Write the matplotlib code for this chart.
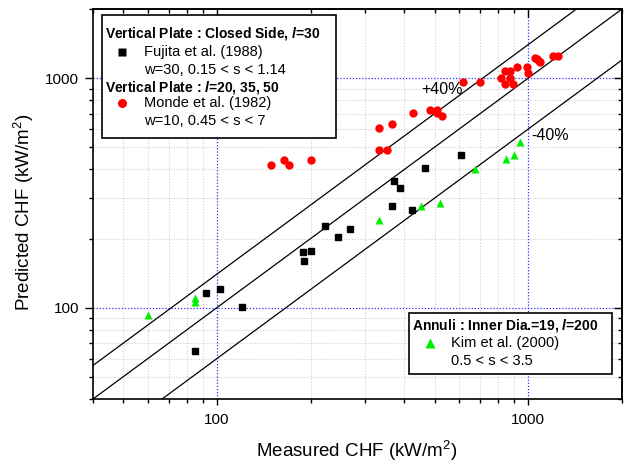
import numpy as np
import matplotlib
matplotlib.use("Agg")
import matplotlib.pyplot as plt
from matplotlib.patches import Rectangle
from matplotlib.ticker import LogLocator, NullFormatter, FixedLocator, FixedFormatter

plt.rcParams['font.family'] = ['Liberation Sans', 'DejaVu Sans']
plt.rcParams['mathtext.fontset'] = 'custom'
plt.rcParams['mathtext.rm'] = 'Liberation Sans'
plt.rcParams['mathtext.it'] = 'Liberation Sans:italic:bold'
plt.rcParams['mathtext.bf'] = 'Liberation Sans:bold'

# Fujita et al. (1988) - measured vs predicted CHF (kW/m2)
fujita_meas = [606, 465, 371, 388, 364, 422, 223, 267, 244, 189, 200, 190, 102, 92, 120, 85]
fujita_pred = [463, 405, 357, 331, 277, 265, 227, 220, 203, 174, 177, 160, 120, 116, 101, 65]

# Monde et al. (1982)
monde_meas = [149, 164, 171, 201, 331, 366, 332, 351, 425, 484, 508, 510, 527, 618, 700,
              816, 845, 874, 874, 845, 890, 917, 994, 1001, 1052, 1069, 1081, 1091, 1198, 1248]
monde_pred = [417, 439, 417, 439, 606, 631, 486, 486, 705, 729, 729, 705, 684, 961, 961,
              1005, 1069, 1069, 1005, 939, 939, 1113, 1113, 1053, 1224, 1214, 1188, 1176, 1243, 1243]

# Kim et al. (2000)
kim_meas = [60, 85, 85, 331, 451, 521, 673, 851, 903, 939]
kim_pred = [93, 110, 106, 241, 277, 287, 402, 444, 463, 529]

# reference lines: y = k * x
line_factors = [1.4, 1.0, 0.6]

W, H = 624, 465
fig = plt.figure(figsize=(W / 100, H / 100), dpi=100)
L, R, T, B = 93, 622, 9, 399
ax = fig.add_axes([L / W, 1 - B / H, (R - L) / W, (B - T) / H])
ax.set_xscale('log')
ax.set_yscale('log')
ax.set_xlim(40, 2000)
ax.set_ylim(40, 2000)

# grid: minor gray dotted, decades blue dotted
minor_vals = [50, 60, 70, 80, 90, 200, 300, 400, 500, 600, 700, 800, 900]
for v in minor_vals:
    ax.axvline(v, color='#d0d0d0', lw=0.8, ls=(0, (1, 1.5)), zorder=0)
    ax.axhline(v, color='#d0d0d0', lw=0.8, ls=(0, (1, 1.5)), zorder=0)
for v in [100, 1000]:
    ax.axvline(v, color='#3030ff', lw=0.9, ls=(0, (1, 1.5)), zorder=0)
    ax.axhline(v, color='#3030ff', lw=0.9, ls=(0, (1, 1.5)), zorder=0)

xs = np.array([40, 2000])
for k in line_factors:
    ax.plot(xs, k * xs, color='black', lw=0.9, zorder=2)

ax.plot(fujita_meas, fujita_pred, 's', color='black', ms=5, zorder=3)
ax.plot(monde_meas, monde_pred, 'o', color='#ff0000', ms=6, mec='none', zorder=3)
ax.plot(kim_meas, kim_pred, '^', color='#00ee00', ms=6.2, mec='none', zorder=3)

ax.text(454, 893, '+40%', fontsize=11.5, ha='left', va='center')
ax.text(1024, 560, '-40%', fontsize=11.5, ha='left', va='center')

# ticks
ax.xaxis.set_major_locator(FixedLocator([100, 1000]))
ax.yaxis.set_major_locator(FixedLocator([100, 1000]))
ax.xaxis.set_major_formatter(FixedFormatter(['100', '1000']))
ax.yaxis.set_major_formatter(FixedFormatter(['100', '1000']))
ax.xaxis.set_minor_locator(LogLocator(base=10, subs=np.arange(2, 10)))
ax.yaxis.set_minor_locator(LogLocator(base=10, subs=np.arange(2, 10)))
ax.xaxis.set_minor_formatter(NullFormatter())
ax.yaxis.set_minor_formatter(NullFormatter())
ax.tick_params(axis='x', which='major', direction='out', length=4, width=1, labelsize=11, pad=6)
ax.tick_params(axis='x', which='minor', direction='out', length=3, width=1)
ax.tick_params(axis='y', which='major', direction='out', length=6, width=1, labelsize=11, pad=4)
ax.tick_params(axis='y', which='minor', direction='out', length=3, width=1)
for s in ax.spines.values():
    s.set_linewidth(1.2)

top = ax.secondary_xaxis('top')
top.xaxis.set_major_locator(FixedLocator([100, 1000]))
top.xaxis.set_minor_locator(LogLocator(base=10, subs=np.arange(2, 10)))
top.xaxis.set_major_formatter(NullFormatter())
top.xaxis.set_minor_formatter(NullFormatter())
top.tick_params(which='major', direction='in', length=6, width=1)
top.tick_params(which='minor', direction='in', length=3, width=1)
top.spines['top'].set_linewidth(1.2)

right = ax.secondary_yaxis('right')
right.yaxis.set_major_locator(FixedLocator([100, 1000]))
right.yaxis.set_minor_locator(LogLocator(base=10, subs=np.arange(2, 10)))
right.yaxis.set_major_formatter(NullFormatter())
right.yaxis.set_minor_formatter(NullFormatter())
right.tick_params(which='major', direction='in', length=6, width=1)
right.tick_params(which='minor', direction='in', length=3, width=1)
right.spines['right'].set_linewidth(1.2)

fig.text(357 / W, 1 - 451 / H, 'Measured CHF (kW/m$^2$)', fontsize=13.5, ha='center', va='center')
fig.text(24 / W, 1 - 212 / H, 'Predicted CHF (kW/m$^2$)', fontsize=13.5, ha='center', va='center',
         rotation=90)


def fx(px):
    return px / W


def fy(py):
    return 1 - py / H


def box(x0, y0, x1, y1):
    fig.add_artist(Rectangle((fx(x0), fy(y1)), fx(x1) - fx(x0), fy(y0) - fy(y1),
                             transform=fig.transFigure, facecolor='white',
                             edgecolor='black', lw=1.2, zorder=5))


def line(px, py, s, bold=False):
    fig.text(fx(px), fy(py), s, fontsize=10 if bold else 10.5,
             fontweight='bold' if bold else 'normal', ha='left', va='center', zorder=6)


def mark(px, py, m, c, ms):
    fig.add_artist(plt.Line2D([fx(px)], [fy(py)], marker=m, color=c, ms=ms, mec='none',
                              transform=fig.transFigure, zorder=6))


# legend 1
box(102, 15, 336, 138)
line(105, 34, 'Vertical Plate : Closed Side, $\\mathit{l}$=30', bold=True)
mark(122, 52, 's', 'black', 5.5)
line(144, 52, 'Fujita et al. (1988)')
line(144, 70, 'w=30, 0.15 < s < 1.14')
line(105, 87, 'Vertical Plate : $\\mathit{l}$=20, 35, 50', bold=True)
mark(122, 103, 'o', '#ff0000', 6.5)
line(144, 103, 'Monde et al. (1982)')
line(144, 121, 'w=10, 0.45 < s < 7')

# legend 2
box(409, 313, 612, 374)
line(412, 326, 'Annuli : Inner Dia.=19, $\\mathit{l}$=200', bold=True)
mark(430, 343, '^', '#00ee00', 6.5)
line(451, 343, 'Kim et al. (2000)')
line(451, 361, '0.5 < s < 3.5')

fig.savefig('out.png', dpi=100)
